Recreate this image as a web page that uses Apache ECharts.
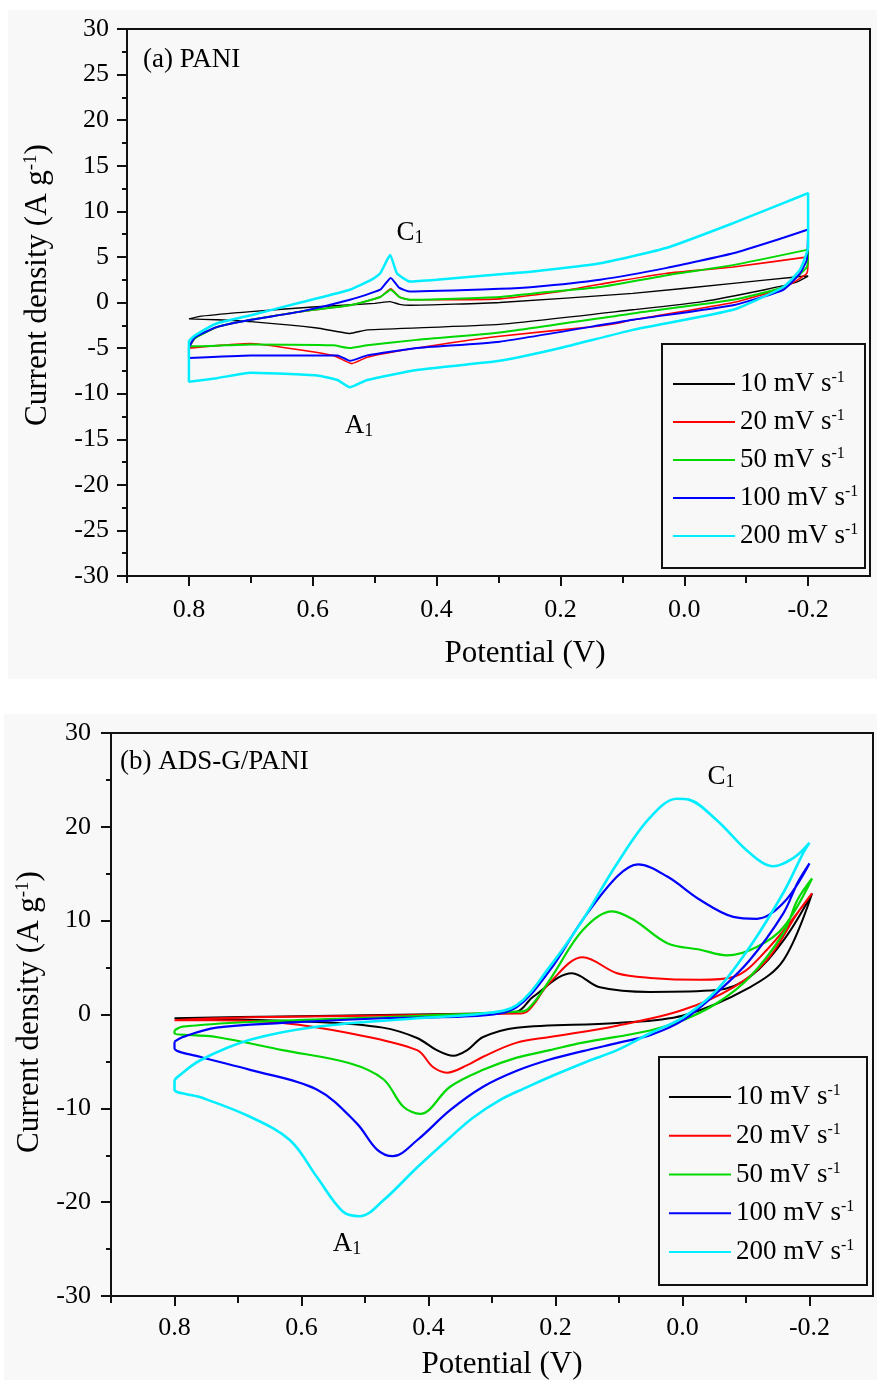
<!DOCTYPE html>
<html>
<head>
<meta charset="utf-8">
<script src="https://cdn.jsdelivr.net/npm/echarts@6/dist/echarts.min.js"></script>
<style>
  html, body { margin: 0; padding: 0; background: #ffffff; }
  #chart { width: 877px; height: 1380px; }
</style>
</head>
<body>
<div id="chart"></div>
<script>
// Scan rates and their trace colours
const scanRates = ['10 mV s-1', '20 mV s-1', '50 mV s-1', '100 mV s-1', '200 mV s-1'];
const traceColors = ['#000000', '#ff0000', '#00d800', '#0000ff', '#00eeff'];

// Potential axis ticks (V)
const potentialTicks = [0.8, 0.6, 0.4, 0.2, 0.0, -0.2];
const potentialMinorTicks = [0.9, 0.7, 0.5, 0.3, 0.1, -0.1];

// (a) PANI cyclic voltammograms: [potential (V), current density (A g-1)]
const pani10 = [[0.80,-1.8],[0.78,-1.5],[0.70,-1.0],[0.60,-0.5],[0.50,-0.1],[0.475,0.1],[0.46,-0.2],[0.443,-0.3],[0.298,0.0],[0.083,1.0],[-0.079,2.1],[-0.18,2.8],[-0.20,2.9],
  [-0.18,2.2],[-0.13,1.4],[-0.03,0.1],[0.083,-0.8],[0.298,-2.4],[0.512,-3.0],[0.54,-3.4],[0.593,-2.8],[0.70,-2.1],[0.755,-1.9],[0.80,-1.8]];
const pani20 = [[0.80,-5.0],[0.79,-3.9],[0.755,-2.7],[0.70,-1.9],[0.62,-1.0],[0.54,-0.3],[0.491,0.6],[0.474,1.5],[0.46,0.6],[0.443,0.3],[0.298,0.4],[0.20,1.2],[0.17,1.6],[0.136,2.0],[0.028,3.2],[-0.079,3.9],[-0.20,5.0],
  [-0.198,3.2],[-0.16,1.6],[-0.079,0.0],[0.083,-1.9],[0.11,-2.3],[0.14,-2.6],[0.298,-3.7],[0.432,-5.0],[0.512,-6.0],[0.537,-6.7],[0.567,-5.8],[0.65,-4.9],[0.70,-4.5],[0.75,-4.7],[0.80,-5.0]];
const pani50 = [[0.80,-4.8],[0.79,-3.9],[0.755,-2.7],[0.70,-1.9],[0.62,-1.0],[0.54,-0.3],[0.491,0.6],[0.474,1.4],[0.46,0.6],[0.443,0.3],[0.298,0.6],[0.244,1.0],[0.136,1.7],[0.028,3.0],[-0.079,4.1],[-0.20,5.8],
  [-0.198,3.9],[-0.16,1.7],[-0.079,0.3],[0.083,-1.2],[0.298,-3.3],[0.432,-4.1],[0.512,-4.7],[0.54,-5.0],[0.567,-4.7],[0.70,-4.6],[0.78,-4.8],[0.80,-4.8]];
const pani100 = [[0.80,-4.9],[0.79,-3.8],[0.755,-2.7],[0.70,-1.9],[0.62,-1.0],[0.54,0.3],[0.491,1.4],[0.474,2.7],[0.46,1.6],[0.443,1.2],[0.298,1.5],[0.244,1.7],[0.136,2.5],[0.028,3.8],[-0.079,5.4],[-0.16,7.1],[-0.20,8.0],
  [-0.198,4.7],[-0.187,3.2],[-0.16,1.4],[-0.079,-0.3],[0.083,-1.9],[0.298,-4.3],[0.432,-5.0],[0.512,-5.8],[0.54,-6.4],[0.56,-5.8],[0.70,-5.8],[0.80,-6.1],[0.80,-4.9]];
const pani200 = [[0.80,-4.2],[0.79,-3.6],[0.755,-2.3],[0.70,-1.4],[0.62,0.0],[0.54,1.4],[0.505,2.5],[0.491,3.2],[0.475,5.2],[0.464,3.2],[0.443,2.3],[0.40,2.5],[0.298,3.1],[0.244,3.4],[0.136,4.3],[0.028,6.0],[-0.079,8.7],[-0.16,10.9],[-0.20,12.0],
  [-0.20,6.1],[-0.187,3.6],[-0.16,1.7],[-0.079,-0.8],[0.083,-3.0],[0.20,-5.0],[0.298,-6.4],[0.432,-7.4],[0.512,-8.5],[0.54,-9.3],[0.56,-8.5],[0.593,-8.0],[0.70,-7.7],[0.755,-8.3],[0.80,-8.7],[0.80,-4.2]];

// (b) ADS-G/PANI cyclic voltammograms: [potential (V), current density (A g-1)]
const ads10 = [[0.80,-0.4],[0.63,-0.2],[0.314,0.1],[0.261,0.3],[0.235,1.9],[0.174,4.4],[0.13,2.9],[0.051,2.4],[-0.054,2.6],[-0.106,4.0],[-0.159,7.9],[-0.204,12.9],
  [-0.159,5.8],[-0.106,2.9],[-0.001,-0.1],[0.103,-0.9],[0.261,-1.4],[0.314,-2.4],[0.339,-3.8],[0.361,-4.4],[0.387,-3.8],[0.418,-2.5],[0.472,-1.4],[0.576,-0.8],[0.80,-0.4]];
const ads20 = [[0.80,-0.6],[0.681,-0.3],[0.261,0.1],[0.245,0.3],[0.209,3.4],[0.157,6.1],[0.103,4.4],[0.051,3.9],[-0.028,3.7],[-0.08,4.0],[-0.133,6.9],[-0.204,12.9],
  [-0.181,10.8],[-0.133,5.8],[-0.08,2.9],[-0.001,0.5],[0.103,-1.2],[0.209,-2.4],[0.261,-3.0],[0.314,-4.5],[0.339,-5.4],[0.371,-6.2],[0.393,-5.6],[0.418,-3.8],[0.524,-2.0],[0.63,-0.9],[0.734,-0.6],[0.80,-0.6]];
const ads50 = [[0.80,-1.7],[0.787,-1.3],[0.681,-0.8],[0.472,-0.3],[0.261,0.3],[0.245,0.5],[0.209,3.7],[0.157,9.0],[0.111,11.0],[0.077,10.1],[0.024,7.6],[-0.028,6.9],[-0.07,6.3],[-0.117,7.2],[-0.159,9.3],[-0.204,14.5],
  [-0.181,12.2],[-0.159,8.7],[-0.106,4.0],[-0.054,1.2],[-0.001,-0.6],[0.051,-1.7],[0.157,-3.0],[0.209,-3.8],[0.261,-4.6],[0.314,-5.9],[0.366,-7.7],[0.413,-10.6],[0.44,-9.8],[0.471,-6.9],[0.524,-5.2],[0.63,-3.8],[0.734,-2.4],[0.80,-2.0],[0.80,-1.7]];
const ads100 = [[0.80,-2.9],[0.787,-2.4],[0.734,-1.4],[0.63,-0.9],[0.472,-0.4],[0.314,-0.1],[0.261,0.8],[0.209,4.7],[0.157,10.1],[0.103,14.7],[0.07,16.0],[0.024,14.7],[-0.028,12.2],[-0.08,10.4],[-0.117,10.2],[-0.159,11.9],[-0.20,16.1],
  [-0.181,14.0],[-0.159,10.8],[-0.106,5.8],[-0.054,2.3],[-0.001,-0.6],[0.051,-2.2],[0.10,-3.0],[0.157,-3.9],[0.209,-4.8],[0.261,-6.0],[0.314,-7.7],[0.366,-10.2],[0.418,-13.4],[0.456,-15.1],[0.481,-14.4],[0.513,-11.6],[0.576,-8.0],[0.681,-5.9],[0.76,-4.5],[0.80,-3.6],[0.80,-2.9]];
const ads200 = [[0.80,-7.0],[0.796,-6.7],[0.76,-4.9],[0.681,-2.7],[0.576,-1.3],[0.418,-0.4],[0.314,0.1],[0.261,1.0],[0.209,5.1],[0.157,10.1],[0.103,16.1],[0.051,21.0],[0.009,23.0],[-0.01,22.9],[-0.054,20.7],[-0.106,17.2],[-0.143,15.8],[-0.175,16.7],[-0.20,18.3],
  [-0.19,17.2],[-0.159,13.0],[-0.106,7.2],[-0.054,2.6],[-0.001,-0.3],[0.051,-2.0],[0.103,-3.8],[0.15,-5.0],[0.20,-6.4],[0.25,-7.9],[0.287,-9.1],[0.33,-11.0],[0.366,-13.1],[0.418,-16.3],[0.471,-19.8],[0.508,-21.5],[0.535,-21.0],[0.576,-17.3],[0.618,-13.4],[0.681,-10.9],[0.76,-8.8],[0.80,-8.0],[0.80,-7.0]];

const paniLoops = [pani10, pani20, pani50, pani100, pani200];
const adsLoops = [ads10, ads20, ads50, ads100, ads200];
const paniWidths = [1.4, 1.6, 2, 2, 2.5];
const adsWidths = [2, 2, 2.2, 2.2, 2.6];

const FONT = '"Liberation Serif", "Times New Roman", serif';
const INK = '#111111';

const chart = echarts.init(document.getElementById('chart'), null, { renderer: 'canvas' });

function potentialAxes(gridIndex) {
  return [
    {
      type: 'value', gridIndex, inverse: true, min: -0.3, max: 0.9,
      axisLine: { show: true, onZero: false, lineStyle: { color: INK, width: 2 } },
      axisTick: { show: true, length: 10, customValues: potentialTicks, lineStyle: { color: INK, width: 2 } },
      axisLabel: { customValues: potentialTicks, margin: gridIndex === 0 ? 21 : 19, fontFamily: FONT, fontSize: 26, color: '#000',
        formatter: v => v.toFixed(1) },
      splitLine: { show: false }
    },
    {
      type: 'value', gridIndex, inverse: true, min: -0.3, max: 0.9, position: 'bottom',
      axisLine: { show: false, onZero: false },
      axisTick: { show: true, length: 7, customValues: potentialMinorTicks, lineStyle: { color: INK, width: 2 } },
      axisLabel: { show: false },
      splitLine: { show: false }
    }
  ];
}

function currentAxis(gridIndex, step) {
  return {
    type: 'value', gridIndex, min: -30, max: 30, interval: step,
    axisLine: { show: true, onZero: false, lineStyle: { color: INK, width: 2 } },
    axisTick: { show: true, length: 10, lineStyle: { color: INK, width: 2 } },
    minorTick: { show: true, splitNumber: 2, length: 5, lineStyle: { color: INK, width: 2 } },
    axisLabel: { margin: gridIndex === 0 ? 18 : 20, fontFamily: FONT, fontSize: 26, color: '#000' },
    splitLine: { show: false }
  };
}

function loopSeries(loops, widths, xAxisIndex, yAxisIndex, smooth) {
  return loops.map((pts, i) => ({
    name: scanRates[i],
    type: 'line',
    xAxisIndex, yAxisIndex,
    data: pts,
    showSymbol: false,
    symbol: 'none',
    smooth,
    animation: false,
    lineStyle: { color: traceColors[i], width: widths[i] },
    itemStyle: { color: traceColors[i] },
    z: 3 + i
  }));
}

const legendText = {
  fontFamily: FONT,
  color: '#000',
  rich: {
    a: { fontFamily: FONT, fontSize: 27, lineHeight: 28, color: '#000' },
    s: { fontFamily: FONT, fontSize: 16, lineHeight: 16, verticalAlign: 'top', color: '#000' }
  }
};
const legendFormatter = name => '{a|' + name.replace('-1', '') + '}{s|-1}';

function legend(left, top, gap) {
  return {
    orient: 'vertical', left, top, itemGap: gap, itemWidth: 62, itemHeight: 2,
    icon: 'rect', padding: 0, data: scanRates, selectedMode: false,
    formatter: legendFormatter, textStyle: legendText
  };
}

function supText(parts, x, y, size, rotate) {
  return {
    type: 'text', x, y, rotation: rotate || 0, z: 20,
    style: {
      text: parts, align: 'center', verticalAlign: 'middle',
      fontFamily: FONT, fill: '#000',
      rich: {
        a: { fontFamily: FONT, fontSize: size, lineHeight: size + 2, fill: '#000' },
        s: { fontFamily: FONT, fontSize: Math.round(size * 0.6), lineHeight: Math.round(size * 0.6), verticalAlign: 'top', fill: '#000' },
        d: { fontFamily: FONT, fontSize: Math.round(size * 0.65), lineHeight: Math.round(size * 0.65), verticalAlign: 'bottom', fill: '#000' }
      }
    }
  };
}

const option = {
  backgroundColor: '#ffffff',
  animation: false,
  grid: [
    { left: 127, top: 29, width: 743, height: 547, show: true, borderColor: INK, borderWidth: 2, backgroundColor: 'transparent', containLabel: false },
    { left: 111, top: 733, width: 762, height: 563, show: true, borderColor: INK, borderWidth: 2, backgroundColor: 'transparent', containLabel: false }
  ],
  xAxis: [...potentialAxes(0), ...potentialAxes(1)],
  yAxis: [currentAxis(0, 5), currentAxis(1, 10)],
  legend: [legend(673, 370, 10.5), legend(669, 1083, 11.25)],
  graphic: [
    { type: 'rect', z: -10, shape: { x: 8, y: 10, width: 869, height: 669 }, style: { fill: '#f8f8f8' } },
    { type: 'rect', z: -10, shape: { x: 4, y: 714, width: 873, height: 666 }, style: { fill: '#f8f8f8' } },
    { type: 'rect', z: 10, shape: { x: 662, y: 344, width: 203, height: 224 }, style: { fill: 'transparent', stroke: INK, lineWidth: 2 } },
    { type: 'rect', z: 10, shape: { x: 659, y: 1057, width: 208, height: 228 }, style: { fill: 'transparent', stroke: INK, lineWidth: 2 } },
    { type: 'text', x: 143, y: 60, z: 20, style: { text: '(a) PANI', fontFamily: FONT, fontSize: 27, fill: '#000', verticalAlign: 'middle' } },
    { type: 'text', x: 120, y: 762, z: 20, style: { text: '(b) ADS-G/PANI', fontFamily: FONT, fontSize: 27, fill: '#000', verticalAlign: 'middle' } },
    { type: 'text', x: 525, y: 654, z: 20, style: { text: 'Potential (V)', fontFamily: FONT, fontSize: 31, fill: '#000', align: 'center', verticalAlign: 'middle' } },
    { type: 'text', x: 502, y: 1365, z: 20, style: { text: 'Potential (V)', fontFamily: FONT, fontSize: 31, fill: '#000', align: 'center', verticalAlign: 'middle' } },
    supText('{a|Current density (A g}{s|-1}{a|)}', 38, 285, 31, Math.PI / 2),
    supText('{a|Current density (A g}{s|-1}{a|)}', 30, 1012, 31, Math.PI / 2),
    supText('{a|C}{d|1}', 410, 233, 27),
    supText('{a|A}{d|1}', 359, 426, 27),
    supText('{a|C}{d|1}', 721, 777, 27),
    supText('{a|A}{d|1}', 347, 1244, 27)
  ],
  series: [
    ...loopSeries(paniLoops, paniWidths, 0, 0, 0.15),
    ...loopSeries(adsLoops, adsWidths, 2, 1, 0.35)
  ]
};

chart.setOption(option);
</script>
</body>
</html>
